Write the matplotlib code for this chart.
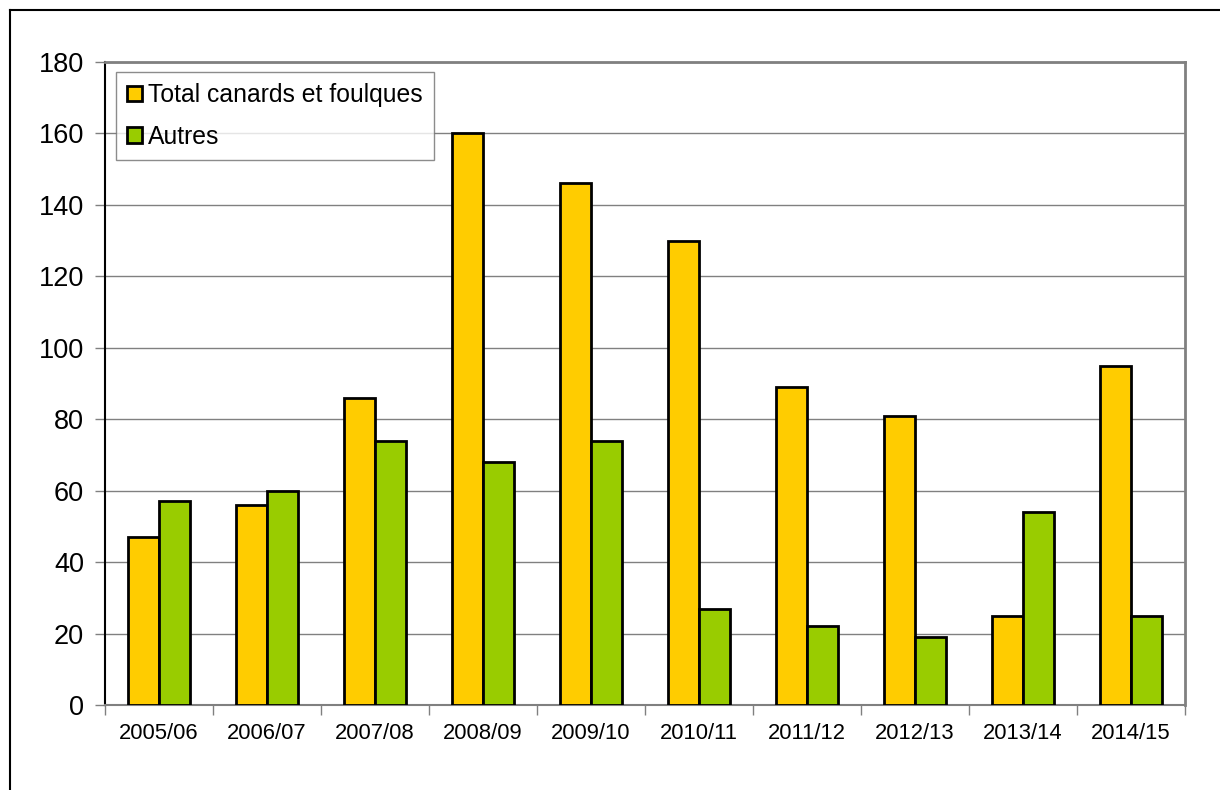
import matplotlib
matplotlib.use("Agg")
import matplotlib.pyplot as plt
import numpy as np
from matplotlib.lines import Line2D
from matplotlib.patches import Patch

categories = ["2005/06", "2006/07", "2007/08", "2008/09", "2009/10",
              "2010/11", "2011/12", "2012/13", "2013/14", "2014/15"]
total_canards = [47, 56, 86, 160, 146, 130, 89, 81, 25, 95]
autres = [57, 60, 74, 68, 74, 27, 22, 19, 54, 25]
series_names = ["Total canards et foulques", "Autres"]
yticks = [0, 20, 40, 60, 80, 100, 120, 140, 160, 180]

plt.rcParams['font.family'] = ['Liberation Sans', 'DejaVu Sans']

fig = plt.figure(figsize=(12.2, 7.9), dpi=100)
ax = fig.add_axes([105/1220, 1-705/790, (1185-105)/1220, (705-62)/790])

x = np.arange(len(categories))
w = 0.29
yellow = "#FFCC00"
green = "#99CC00"
ax.bar(x - w/2, total_canards, w, color=yellow, edgecolor="black", linewidth=2, zorder=3,
       label=series_names[0])
ax.bar(x + w/2, autres, w, color=green, edgecolor="black", linewidth=2, zorder=3,
       label=series_names[1])

ax.set_xlim(-0.5, len(categories) - 0.5)
ax.set_ylim(0, 180)
ax.set_yticks(yticks)
ax.set_yticklabels([str(v) for v in yticks], fontsize=19.5)
ax.yaxis.grid(True, color="#808080", linewidth=1, zorder=0)
ax.set_axisbelow(True)

ax.set_xticks(x)
ax.set_xticklabels(categories, fontsize=15.8)
ax.tick_params(axis='x', length=0, pad=13)
ax.set_xticks(np.arange(-0.5, len(categories)), minor=True)
ax.tick_params(axis='x', which='minor', length=7, color="#808080", width=1)
ax.tick_params(axis='y', length=7, color="#808080", width=1, pad=8)

for s in ["top", "right"]:
    ax.spines[s].set_color("#808080")
    ax.spines[s].set_linewidth(2)
ax.spines["left"].set_color("black")
ax.spines["left"].set_linewidth(1.5)
ax.spines["bottom"].set_color("#808080")
ax.spines["bottom"].set_linewidth(1.5)

handles = [Patch(facecolor=yellow, edgecolor="black", linewidth=2),
           Patch(facecolor=green, edgecolor="black", linewidth=2)]
leg = ax.legend(handles, series_names, loc="upper left", bbox_to_anchor=(11/1080, 1 - 10/643),
                fontsize=17.8, frameon=True, fancybox=False, edgecolor="#707070",
                handlelength=0.6, handleheight=0.6, handletextpad=0.25,
                borderpad=0.45, labelspacing=0.72, borderaxespad=0)
leg.get_frame().set_linewidth(1)

fig.add_artist(Line2D([10/1220, 1], [1-10/790, 1-10/790], color="black", linewidth=1.5))
fig.add_artist(Line2D([10/1220, 10/1220], [0, 1-10/790], color="black", linewidth=1.5))

fig.savefig("out.png", dpi=100)
